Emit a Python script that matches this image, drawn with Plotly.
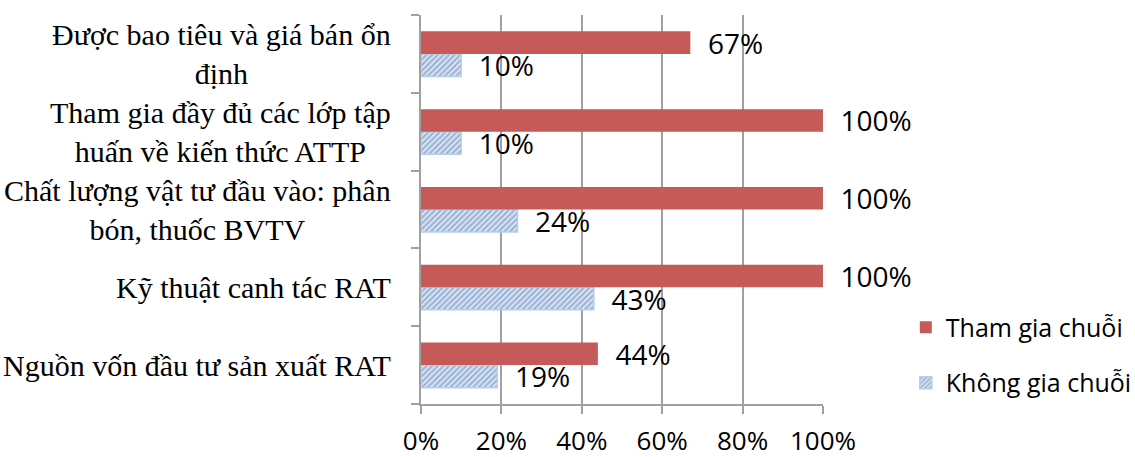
import plotly.graph_objects as go

# Categories listed bottom-to-top (Plotly category axis starts at bottom)
categories = [
    "Nguồn vốn đầu tư sản xuất RAT",
    "Kỹ thuật canh tác RAT",
    "Chất lượng vật tư đầu vào: phân<br>bón, thuốc BVTV",
    "Tham gia đầy đủ các lớp tập<br>huấn về kiến thức ATTP",
    "Được bao tiêu và giá bán ổn<br>định",
]
tham_gia = [0.44, 1.00, 1.00, 1.00, 0.67]
khong_tham_gia = [0.19, 0.43, 0.24, 0.10, 0.10]
series_names = ["Tham gia chuỗi", "Không gia chuỗi"]
x_ticks = [0, 0.2, 0.4, 0.6, 0.8, 1.0]

LABEL_FONT = dict(family="Open Sans", size=28, color="black")
GRID = "#A0A0A0"

fig = go.Figure()
fig.add_trace(go.Bar(
    y=categories, x=khong_tham_gia, orientation="h", name=series_names[1],
    legendgroup="b", legendrank=2,
    marker=dict(color="#DCE6F2", line=dict(color="#B9CDE5", width=1.5),
                pattern=dict(shape="/", fgcolor="#4F7BBA", size=4, solidity=0.5)),
    text=["  " + f"{v:.0%}" for v in khong_tham_gia], textposition="outside",
    textfont=LABEL_FONT, cliponaxis=False, constraintext="none",
))
fig.add_trace(go.Bar(
    y=categories, x=tham_gia, orientation="h", name=series_names[0],
    legendgroup="a", legendrank=1,
    marker=dict(color="#C55A58", line=dict(width=0)),
    text=["  " + f"{v:.0%}" for v in tham_gia], textposition="outside",
    textfont=LABEL_FONT, cliponaxis=False, constraintext="none",
))

for c in categories:
    fig.add_annotation(
        x=(393 - 421) / 402, xref="x domain", y=c, yref="y", text=c,
        showarrow=False, xanchor="right", align="center",
        font=dict(family="Liberation Serif", size=30, color="black"),
    )

fig.update_layout(
    width=1135, height=457,
    margin=dict(l=421, r=312, t=15, b=53, autoexpand=False),
    paper_bgcolor="white", plot_bgcolor="white",
    barmode="group", bargap=0.42, bargroupgap=0.0,
    showlegend=True,
    legend=dict(x=1.206, xanchor="left", y=0.126, yanchor="middle",
                traceorder="grouped", tracegroupgap=20,
                font=dict(family="Open Sans", size=25, color="black"),
                bgcolor="rgba(0,0,0,0)"),
    xaxis=dict(range=[0, 1], tickvals=x_ticks, tickformat=".0%",
               showgrid=True, gridcolor=GRID, gridwidth=2,
               showline=True, linecolor=GRID, linewidth=2,
               ticks="outside", ticklen=8, tickcolor=GRID, tickwidth=2,
               ticklabelstandoff=5, automargin=False,
               tickfont=dict(family="Open Sans", size=26, color="black"),
               zeroline=False, fixedrange=True),
    yaxis=dict(showticklabels=False, showgrid=False, automargin=False,
               showline=True, linecolor=GRID, linewidth=2,
               ticks="outside", ticklen=8, tickcolor=GRID, tickwidth=2,
               tickson="boundaries", zeroline=False),
)

fig.write_html("out.html")
